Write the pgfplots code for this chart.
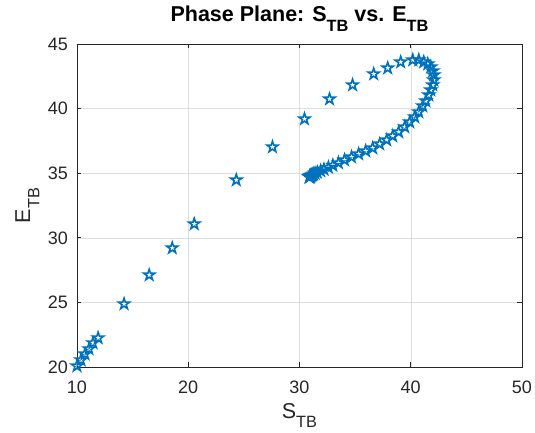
\documentclass[border=0pt]{standalone}
\usepackage{pgfplots}
\pgfplotsset{compat=1.18}
\usepackage{graphicx}
\usepackage{fontspec}
\setmainfont{Liberation Sans}
\usetikzlibrary{calc}
\definecolor{mblue}{RGB}{0,114,189}
\definecolor{axc}{RGB}{38,38,38}
\newcommand\msub[1]{\raisebox{-0.5em}{\scalebox{0.76}{#1}}}
\newcommand\lsub[1]{\raisebox{-0.44em}{\scalebox{0.76}{#1}}}
\pgfdeclareplotmark{pentagram}{%
  \pgfpathmoveto{\pgfpointpolar{90}{\pgfplotmarksize}}%
  \pgfpathlineto{\pgfpointpolar{126}{0.382\pgfplotmarksize}}%
  \pgfpathlineto{\pgfpointpolar{162}{\pgfplotmarksize}}%
  \pgfpathlineto{\pgfpointpolar{198}{0.382\pgfplotmarksize}}%
  \pgfpathlineto{\pgfpointpolar{234}{\pgfplotmarksize}}%
  \pgfpathlineto{\pgfpointpolar{270}{0.382\pgfplotmarksize}}%
  \pgfpathlineto{\pgfpointpolar{306}{\pgfplotmarksize}}%
  \pgfpathlineto{\pgfpointpolar{342}{0.382\pgfplotmarksize}}%
  \pgfpathlineto{\pgfpointpolar{18}{\pgfplotmarksize}}%
  \pgfpathlineto{\pgfpointpolar{54}{0.382\pgfplotmarksize}}%
  \pgfpathclose
  \pgfusepathqstroke
}
\begin{document}
\begin{tikzpicture}
\begin{axis}[
  name=ax,
  scale only axis,
  width=445pt, height=323pt,
  xmin=10, xmax=50, ymin=20, ymax=45,
  xtick={10,20,30,40,50}, ytick={20,25,30,35,40,45},
  grid=major,
  major grid style={draw=black!13, line width=0.5pt},
  axis line style={draw=axc, line width=0.6pt},
  tick style={draw=axc, line width=0.6pt},
  major tick length=4.5pt,
  tick align=inside,
  xtick pos=both, ytick pos=both,
  /pgf/number format/assume math mode=true,
  tick label style={font=\fontsize{18}{21}\selectfont, text=axc, inner sep=0pt},
  xticklabel style={anchor=base, yshift=-27pt},
  yticklabel style={anchor=base east, xshift=-9pt, yshift=-6.4pt},
  title={\bfseries Phase Plane: S\msub{TB} vs. E\msub{TB}},
  title style={font=\fontsize{21.5}{24}\selectfont, at={(axis description cs:0.5,1.0526)}, anchor=base, inner sep=0pt},
  xlabel={S\lsub{TB}},
  ylabel={E\lsub{TB}},
  label style={font=\fontsize{21.5}{24}\selectfont, text=axc, inner sep=0pt},
  xlabel style={at={(axis description cs:0.5,-0.1595)}, anchor=base},
  ylabel style={at={(axis description cs:-0.1056,0.5)}, anchor=base},
]
\addplot[only marks, mark=pentagram, mark size=5.8pt, draw=mblue, line width=1.6pt] coordinates {
(10.0,20.08) (10.36,20.54) (10.72,21.0) (11.08,21.4) (11.44,21.86) (11.9,22.25)
(14.23,24.88) (16.49,27.12) (18.56,29.21) (20.54,31.07) (24.32,34.47)
(27.57,37.03) (30.45,39.2) (32.7,40.74) (34.77,41.83) (36.67,42.68)
(37.93,43.14) (39.1,43.6) (40.18,43.76) (40.72,43.76) (41.17,43.61)
(41.53,43.45) (41.80,43.22) (41.98,42.91) (42.07,42.60) (42.07,42.21)
(41.98,41.83) (41.80,41.44) (41.62,41.05) (41.35,40.59) (41.08,40.20)
(40.72,39.74) (40.36,39.35) (39.91,38.96) (39.46,38.58) (38.92,38.19)
(38.38,37.88) (37.84,37.57) (37.21,37.26) (36.58,36.95) (35.95,36.72)
(35.32,36.49) (34.68,36.25) (34.05,36.02) (33.5,35.8) (33.0,35.6)
(32.6,35.45) (32.2,35.3) (31.9,35.18) (31.6,35.07) (31.4,34.99)
(31.25,34.92) (31.15,34.87) (31.07,34.83) (31.01,34.8) (30.97,34.77)
(30.94,34.75) (30.92,34.73) (30.9,34.72) (30.89,34.71) (30.88,34.7)
};
\end{axis}
\pgfresetboundingbox
\useasboundingbox ($(ax.south west)+(-77pt,-66pt)$) rectangle ($(ax.north east)+(13pt,44pt)$);
\end{tikzpicture}
\end{document}
